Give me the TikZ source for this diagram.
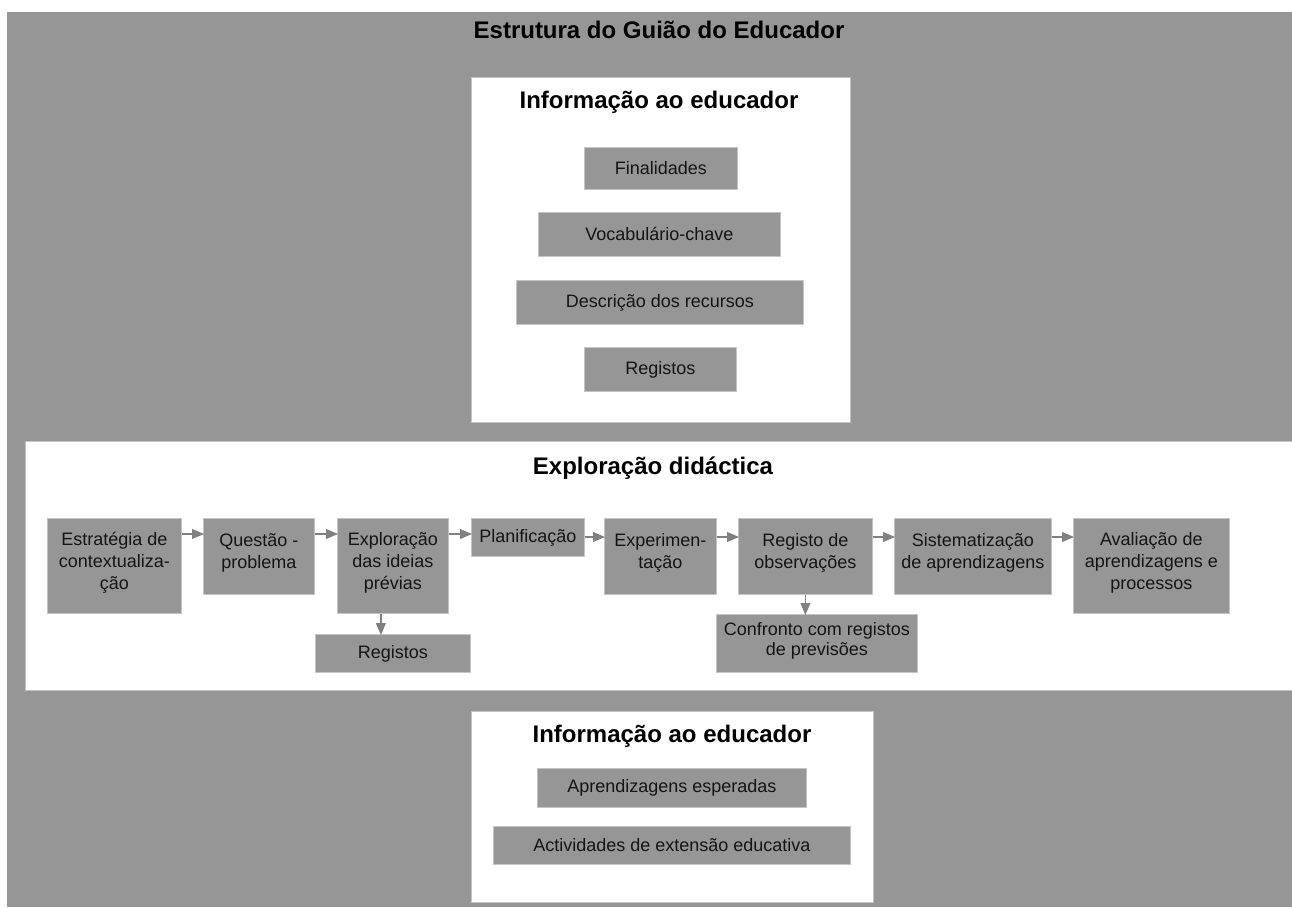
\documentclass[tikz,border=0pt]{standalone}
\usepackage{fontspec}
\setmainfont{Liberation Sans}
\usetikzlibrary{shapes,arrows,positioning,fit}
\usepackage{xcolor}
\definecolor{cinzafundo}{RGB}{150,150,150}
\definecolor{cinzaborda}{RGB}{196,196,196}
\definecolor{cinzaseta}{RGB}{128,128,128}
\definecolor{textoescuro}{RGB}{20,20,20}
\newcommand{\subirtexto}{\\[-12pt]\mbox{}}

\tikzset{
    painel/.style={draw=cinzaborda, fill=white, line width=0.8pt, anchor=north west, inner sep=0pt},
    titulo/.style={anchor=base, font=\fontsize{24}{28}\selectfont\bfseries, text=black, inner sep=0pt},
    etapa/.style={draw=cinzaborda, fill=cinzafundo, line width=0.8pt, anchor=north west, inner sep=0pt,
        align=center, text=textoescuro, font=\fontsize{18}{22}\selectfont},
    seta/.style={draw=cinzaseta, line width=1.8pt, -triangle 45, shorten >=-1pt}
}

\begin{document}
\begin{tikzpicture}[x=1pt, y=-1pt]
    \useasboundingbox (0,0) rectangle (1292,907);
    \fill[cinzafundo] (7,12) rectangle (1292,907);
    \node[titulo] (titulo) at (659,39) {Estrutura do Guião do Educador};

    % painel de cima
    \node[painel, minimum width=379pt, minimum height=345pt] (infotopo) at (471,77) {};
    \node[titulo] (infotopotit) at (659,108) {Informação ao educador};
    \node[etapa, minimum width=153pt, minimum height=42pt] (finalidades) at (584,147) {Finalidades};
    \node[etapa, minimum width=242pt, minimum height=44pt] (vocabulario) at (538,212) {Vocabulário-chave};
    \node[etapa, minimum width=287pt, minimum height=44pt] (descricao) at (516,280) {Descrição dos recursos};
    \node[etapa, minimum width=152pt, minimum height=44pt] (registostopo) at (584,347) {Registos};

    % faixa da exploracao
    \node[painel, minimum width=1267pt, minimum height=249pt] (exploracaofaixa) at (25,441) {};
    \node[titulo] (exploracaotit) at (653,474) {Exploração didáctica};
    \node[etapa, minimum width=134pt, minimum height=95pt] (estrategia) at (47,518) {Estratégia de\\contextualiza-\\ção\subirtexto};
    \node[etapa, minimum width=111pt, minimum height=76pt] (questao) at (203,518) {Questão -\\problema\subirtexto};
    \node[etapa, minimum width=111pt, minimum height=95pt] (exploracao) at (337,518) {Exploração\\das ideias\\prévias\subirtexto};
    \node[etapa, minimum width=155pt, minimum height=38pt] (registos) at (315,634) {Registos};
    \node[etapa, minimum width=113pt, minimum height=38pt] (planificacao) at (471,518) {Planificação};
    \node[etapa, minimum width=112pt, minimum height=76pt] (experimentacao) at (604,518) {Experimen-\\tação\subirtexto};
    \node[etapa, minimum width=134pt, minimum height=76pt] (registoobs) at (738,518) {Registo de\\observações\subirtexto};
    \node[etapa, minimum width=201pt, minimum height=58pt, font=\fontsize{18}{20}\selectfont] (confronto) at (716,614) {Confronto com registos\\de previsões\subirtexto};
    \node[etapa, minimum width=157pt, minimum height=76pt] (sistematizacao) at (894,518) {Sistematização\\de aprendizagens\subirtexto};
    \node[etapa, minimum width=156pt, minimum height=95pt] (avaliacao) at (1073,518) {Avaliação de\\aprendizagens e\\processos\subirtexto};

    \draw[seta] ([yshift=-16pt]estrategia.north east) -- ([yshift=-16pt]questao.north west);
    \draw[seta] ([yshift=-16pt]questao.north east) -- ([yshift=-16pt]exploracao.north west);
    \draw[seta] ([yshift=-16pt]exploracao.north east) -- ([yshift=-16pt]planificacao.north west);
    \draw[seta] ([yshift=-19pt]planificacao.north east) -- ([yshift=-19pt]experimentacao.north west);
    \draw[seta] ([yshift=-19pt]experimentacao.north east) -- ([yshift=-19pt]registoobs.north west);
    \draw[seta] ([yshift=-19pt]registoobs.north east) -- ([yshift=-19pt]sistematizacao.north west);
    \draw[seta] ([yshift=-19pt]sistematizacao.north east) -- ([yshift=-19pt]avaliacao.north west);
    \draw[seta] ([xshift=-12pt]exploracao.south) -- ([xshift=-12pt]exploracao.south |- registos.north);
    \draw[seta] (registoobs.south) -- (registoobs.south |- confronto.north);

    % painel de baixo
    \node[painel, minimum width=402pt, minimum height=191pt] (infobaixo) at (471,711) {};
    \node[titulo] (infobaixotit) at (672,742) {Informação ao educador};
    \node[etapa, minimum width=269pt, minimum height=39pt] (aprendizagens) at (537,768) {Aprendizagens esperadas};
    \node[etapa, minimum width=357pt, minimum height=38pt] (actividades) at (493,826) {Actividades de extensão educativa};
\end{tikzpicture}
\end{document}
